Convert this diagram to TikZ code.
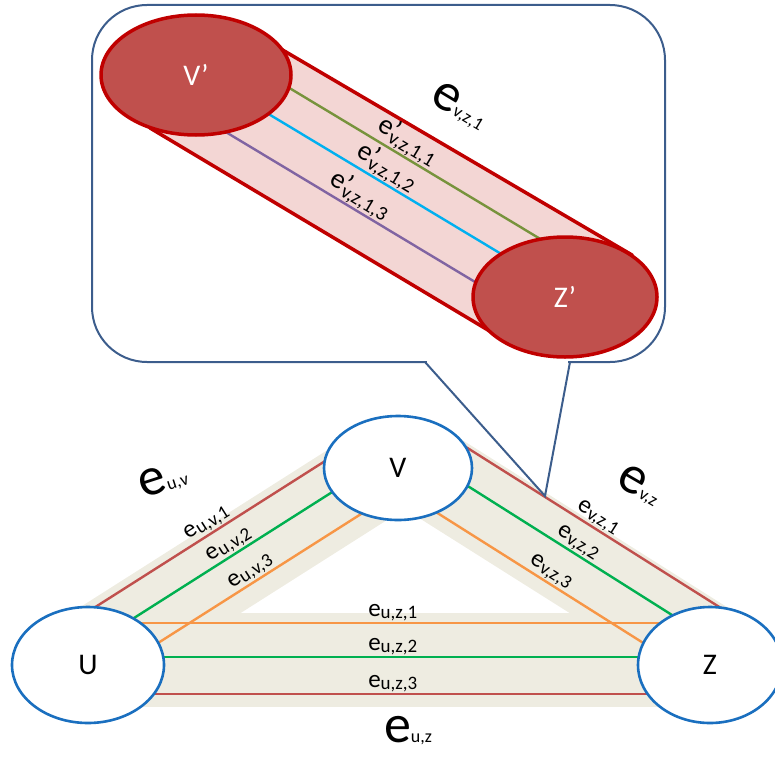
\documentclass[tikz,border=0pt]{standalone}
\usepackage{fontspec}
\setmainfont{Carlito}
\usetikzlibrary{shapes.geometric,calc,backgrounds}

\definecolor{bandtan}{HTML}{EEECE1}
\definecolor{edgered}{HTML}{C0504D}
\definecolor{edgegreen}{HTML}{00B050}
\definecolor{edgeorange}{HTML}{F79646}
\definecolor{vertexblue}{HTML}{1A6FBF}
\definecolor{calloutblue}{HTML}{3C5D8C}
\definecolor{tubered}{HTML}{C00000}
\definecolor{tubepink}{HTML}{F3D6D4}
\definecolor{subolive}{HTML}{77933C}
\definecolor{subcyan}{HTML}{00B0F0}
\definecolor{subpurple}{HTML}{8064A2}

\newcommand{\esub}[1]{e\raisebox{-2pt}{\fontsize{19}{19}\selectfont #1}}
\newcommand{\eprime}[1]{e\rlap{’}\kern1.5pt\raisebox{-5pt}{\fontsize{20}{20}\selectfont #1}}
\newcommand{\ebig}[1]{{\fontsize{54}{54}\selectfont e}{\fontsize{18}{18}\selectfont #1}}

\tikzset{
  vertex/.style={ellipse, draw=vertexblue, line width=2.6pt, fill=white,
    font=\fontsize{30}{30}\selectfont},
  subvertex/.style={ellipse, draw=tubered, line width=3.5pt, fill=edgered,
    text=white, font=\fontsize{30}{30}\selectfont},
  band/.style={draw=bandtan},
  edge/.style={draw=#1, line width=2.4pt},
  subedge/.style={draw=#1, line width=2.4pt},
  tube/.style={draw=tubered, fill=tubepink, line width=3.5pt, line join=round},
  callout/.style={draw=calloutblue, line width=2pt},
  elabel/.style={sloped, above, inner sep=1pt, font=\fontsize{25}{25}\selectfont},
  plabel/.style={sloped, above, inner sep=0.5pt, font=\fontsize{28}{28}\selectfont},
  biglabel/.style={inner sep=2pt}
}

\begin{document}
\begin{tikzpicture}[x=1pt, y=-1pt]
  \useasboundingbox (0,0) rectangle (775,757);
  % graph vertices
  \node[vertex, minimum width=152pt, minimum height=116pt] (U) at (88,665) {U};
  \node[vertex, minimum width=148pt, minimum height=104pt] (V) at (398,468) {V};
  \node[vertex, minimum width=144pt, minimum height=116pt] (Z) at (710,665) {Z};
  % zoomed vertices
  \node[subvertex, minimum width=190pt, minimum height=120pt] (Vp) at (196,75) {V’};
  \node[subvertex, minimum width=184pt, minimum height=120pt] (Zp) at (565,297) {Z’};

  \begin{pgfonlayer}{background}
    % callout box
    \draw[callout, rounded corners=55pt] (92,5) rectangle (665,362);
    \draw[white, line width=4pt] (427,362) -- (568,362);
    % tube of e_{v,z,1}
    \draw[tube] (240,25) -- (632,255) -- (612,285) -- (513,345) -- (150,128) -- cycle;
    \draw[subedge=subolive] ($(Vp)!37pt!90:(Zp)$) -- node[plabel, pos=0.5]{\eprime{v,z,1,1}} ($(Zp)!37pt!-90:(Vp)$);
    \draw[subedge=subcyan] ($(Vp)!4pt!90:(Zp)$) -- node[plabel, pos=0.49]{\eprime{v,z,1,2}} ($(Zp)!4pt!-90:(Vp)$);
    \draw[subedge=subpurple] ($(Vp)!-33.5pt!90:(Zp)$) -- node[plabel, pos=0.47]{\eprime{v,z,1,3}} ($(Zp)!-33.5pt!-90:(Vp)$);

    % bands
    \draw[band, line width=94pt] ($(U)!5pt!90:(Z)$) -- ($(Z)!5pt!-90:(U)$);
    \draw[band, line width=91pt] ($(U)!7.5pt!90:(V)$) -- ($(V)!7.5pt!-90:(U)$);
    \draw[band, line width=89pt] ($(V)!13.5pt!90:(Z)$) -- ($(Z)!13.5pt!-90:(V)$);

    % u-v edges
    \draw[edge=edgered] ($(U)!45pt!90:(V)$) -- node[elabel, pos=0.48]{\esub{u,v,1}} ($(V)!45pt!-90:(U)$);
    \draw[edge=edgegreen] ($(U)!15pt!90:(V)$) -- node[elabel, pos=0.5]{\esub{u,v,2}} ($(V)!15pt!-90:(U)$);
    \draw[edge=edgeorange] ($(U)!-19pt!90:(V)$) -- node[elabel, pos=0.51]{\esub{u,v,3}} ($(V)!-19pt!-90:(U)$);
    % v-z edges
    \draw[edge=edgered] ($(V)!54pt!90:(Z)$) -- node[elabel, pos=0.53]{\esub{v,z,1}} ($(Z)!54pt!-90:(V)$);
    \draw[edge=edgegreen] ($(V)!22pt!90:(Z)$) -- node[elabel, pos=0.52]{\esub{v,z,2}} ($(Z)!22pt!-90:(V)$);
    \draw[edge=edgeorange] ($(V)!-17pt!90:(Z)$) -- node[elabel, pos=0.5]{\esub{v,z,3}} ($(Z)!-17pt!-90:(V)$);
    % u-z edges
    \draw[edge=edgeorange] ($(U)!42pt!90:(Z)$) -- node[elabel, pos=0.49]{\esub{u,z,1}} ($(Z)!42pt!-90:(U)$);
    \draw[edge=edgegreen] ($(U)!8pt!90:(Z)$) -- node[elabel, pos=0.49]{\esub{u,z,2}} ($(Z)!8pt!-90:(U)$);
    \draw[edge=edgered] ($(U)!-29pt!90:(Z)$) -- node[elabel, pos=0.49]{\esub{u,z,3}} ($(Z)!-29pt!-90:(U)$);
  \end{pgfonlayer}

  % big edge names
  \node[biglabel, rotate=18] (euv) at (163,480) {\ebig{u,v}};
  \node[biglabel, rotate=-30] (evz) at (640,485) {\ebig{v,z}};
  \node[biglabel] (euz) at (408,731) {\ebig{u,z}};
  \node[biglabel, rotate=-31] (evzone) at (460,106) {\ebig{v,z,1}};

  % callout pointer
  \coordinate (tip) at (545,496);
  \draw[callout] (425,362) -- (tip) -- (570,362);
\end{tikzpicture}
\end{document}
